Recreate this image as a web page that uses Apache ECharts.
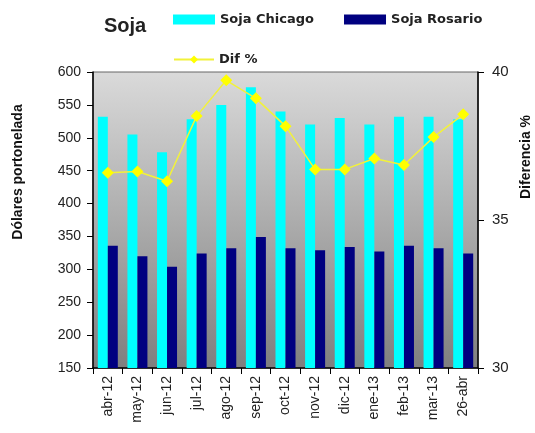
<!DOCTYPE html>
<html>
<head>
<meta charset="utf-8">
<script src="https://cdn.jsdelivr.net/npm/echarts@6/dist/echarts.min.js"></script>
<style>
  html, body { margin: 0; padding: 0; background: #fff; }
  #chart { width: 535px; height: 433px; }
</style>
</head>
<body>
<div id="chart"></div>
<script>
var meses = ['abr-12', 'may-12', 'jun-12', 'jul-12', 'ago-12', 'sep-12', 'oct-12', 'nov-12', 'dic-12', 'ene-13', 'feb-13', 'mar-13', '26-abr'];
var sojaChicago = [532, 505, 478, 528, 550, 577, 540, 520, 530, 520, 532, 532, 528];
var sojaRosario = [336, 320, 304, 324, 332, 349, 332, 329, 334, 327, 336, 332, 324];
var difPct = [36.6, 36.64, 36.31, 38.51, 39.72, 39.11, 38.17, 36.71, 36.71, 37.08, 36.86, 37.8, 38.57];

var myChart = echarts.init(document.getElementById('chart'));
var fuente = 'Liberation Sans, Arial, sans-serif';
var fuenteLeyenda = 'DejaVu Sans, sans-serif';
var negrita = { fontSize: 14, fontWeight: 'bold', fill: '#111', fontFamily: fuente };
var option = {
    animation: false,
    title: {
        text: 'Soja',
        left: 99,
        top: 11,
        textStyle: { fontSize: 20, fontWeight: 'bold', color: '#222', fontFamily: fuente }
    },
    legend: [
        {
            data: ['Soja Chicago', 'Soja Rosario'],
            left: 168,
            top: 8,
            itemWidth: 42,
            itemHeight: 10,
            itemGap: 30,
            icon: 'rect',
            textStyle: { fontSize: 13, fontWeight: 'bold', color: '#222', fontFamily: fuenteLeyenda }
        },
        {
            data: ['Dif %'],
            left: 168,
            top: 48,
            itemWidth: 40,
            itemHeight: 10,
            textStyle: { fontSize: 13, fontWeight: 'bold', color: '#222', fontFamily: fuenteLeyenda }
        }
    ],
    graphic: [
        {
            type: 'text',
            x: 18,
            y: 172,
            rotation: Math.PI / 2,
            style: Object.assign({ text: 'Dólares portonelada', align: 'center', verticalAlign: 'middle' }, negrita)
        },
        {
            type: 'text',
            x: 526,
            y: 157,
            rotation: Math.PI / 2,
            style: Object.assign({ text: 'Diferencia %', align: 'center', verticalAlign: 'middle' }, negrita)
        }
    ],
    grid: {
        left: 93,
        right: 57,
        top: 72,
        bottom: 65,
        show: true,
        borderColor: '#666',
        borderWidth: 1,
        backgroundColor: new echarts.graphic.LinearGradient(0, 0, 0, 1, [
            { offset: 0, color: '#dadada' },
            { offset: 1, color: '#7f7f7f' }
        ])
    },
    xAxis: {
        type: 'category',
        data: meses,
        axisLine: { lineStyle: { color: '#000', width: 1.5 } },
        axisTick: { show: true, length: 6, lineStyle: { color: '#000' } },
        axisLabel: {
            rotate: 90,
            fontSize: 14,
            color: '#222',
            fontFamily: fuente,
            margin: 8
        }
    },
    yAxis: [
        {
            type: 'value',
            min: 150,
            max: 600,
            interval: 50,
            axisLine: { show: true, lineStyle: { color: '#000', width: 1.5 } },
            axisTick: { show: true, length: 6, lineStyle: { color: '#000' } },
            axisLabel: { fontSize: 14, color: '#222', fontFamily: fuente, margin: 12 },
            splitLine: { show: false }
        },
        {
            type: 'value',
            min: 30,
            max: 40,
            interval: 5,
            position: 'right',
            axisLine: { show: true, lineStyle: { color: '#000', width: 1.5 } },
            axisTick: { show: true, length: 6, lineStyle: { color: '#000' } },
            axisLabel: { fontSize: 15, color: '#222', fontFamily: fuente, margin: 14 },
            splitLine: { show: false }
        }
    ],
    series: [
        {
            name: 'Soja Chicago',
            type: 'bar',
            data: sojaChicago,
            barWidth: 10,
            barGap: '0%',
            itemStyle: { color: '#00ffff' }
        },
        {
            name: 'Soja Rosario',
            type: 'bar',
            data: sojaRosario,
            barWidth: 10,
            itemStyle: { color: '#000080' }
        },
        {
            name: 'Dif %',
            type: 'line',
            yAxisIndex: 1,
            data: difPct,
            symbol: 'diamond',
            symbolSize: 12,
            lineStyle: { color: '#f2f23a', width: 1.5 },
            itemStyle: { color: '#ffff00' }
        }
    ]
};
myChart.setOption(option);
</script>
</body>
</html>
